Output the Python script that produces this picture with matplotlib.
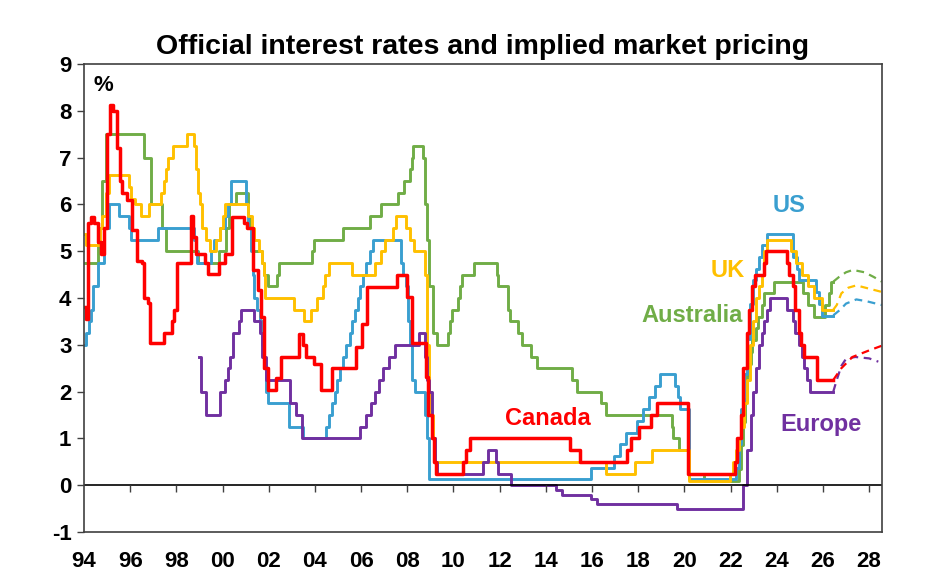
import matplotlib
matplotlib.use("Agg")
import matplotlib.pyplot as plt

plt.rcParams['font.family'] = ['Liberation Sans', 'DejaVu Sans']
plt.rcParams['font.weight'] = 'bold'
plt.rcParams['axes.unicode_minus'] = False

# Policy rates (step changes), decimal years -> %
us_t = [1994.0, 1994.1, 1994.22, 1994.3, 1994.38, 1994.62, 1994.87, 1995.1, 1995.5, 1995.96, 1996.05,
        1997.22, 1998.75, 1998.83, 1998.9, 1999.5, 1999.65, 1999.88, 2000.1, 2000.22, 2000.38,
        2001.0, 2001.1, 2001.22, 2001.3, 2001.38, 2001.5, 2001.63, 2001.72, 2001.8, 2001.87, 2001.95,
        2002.87, 2003.5, 2004.5, 2004.62, 2004.72, 2004.87, 2004.95, 2005.1, 2005.22, 2005.35, 2005.5,
        2005.62, 2005.72, 2005.87, 2005.95, 2006.1, 2006.22, 2006.38, 2006.5, 2007.72, 2007.83, 2007.95,
        2008.05, 2008.1, 2008.22, 2008.33, 2008.78, 2008.85, 2008.96, 2015.96, 2016.96, 2017.2, 2017.46,
        2017.96, 2018.22, 2018.46, 2018.73, 2018.96, 2019.58, 2019.72, 2019.83, 2020.2, 2022.22, 2022.35,
        2022.46, 2022.58, 2022.73, 2022.85, 2022.96, 2023.1, 2023.22, 2023.35, 2023.58, 2024.72, 2024.87,
        2024.96, 2025.72, 2025.83, 2025.96, 2026.45]
us_v = [3.0, 3.25, 3.5, 3.75, 4.25, 4.75, 5.5, 6.0, 5.75, 5.5, 5.25,
        5.5, 5.25, 5.0, 4.75, 5.0, 5.25, 5.5, 5.75, 6.0, 6.5,
        6.0, 5.5, 5.0, 4.5, 4.0, 3.75, 3.5, 3.0, 2.5, 2.0, 1.75,
        1.25, 1.0, 1.25, 1.5, 1.75, 2.0, 2.25, 2.5, 2.75, 3.0, 3.25,
        3.5, 3.75, 4.0, 4.25, 4.5, 4.75, 5.0, 5.25, 4.75, 4.5, 4.25,
        3.5, 3.0, 2.25, 2.0, 1.5, 1.0, 0.125, 0.375, 0.625, 0.875, 1.125,
        1.375, 1.625, 1.875, 2.125, 2.375, 2.125, 1.875, 1.625, 0.125, 0.375, 0.875,
        1.625, 2.375, 3.125, 3.875, 4.375, 4.625, 4.875, 5.125, 5.375, 4.875, 4.625,
        4.375, 4.125, 3.875, 3.625, 3.625]

uk_t = [1994.0, 1994.1, 1994.7, 1994.78, 1994.95, 1995.1, 1995.96, 1996.05, 1996.2, 1996.45, 1996.8,
        1997.35, 1997.45, 1997.55, 1997.62, 1997.85, 1998.45, 1998.78, 1998.85, 1998.95, 1999.02,
        1999.12, 1999.28, 1999.45, 1999.7, 1999.87, 2000.04, 2000.12, 2001.12, 2001.28, 2001.37,
        2001.6, 2001.7, 2001.79, 2001.85, 2003.1, 2003.53, 2003.85, 2004.1, 2004.37, 2004.45, 2004.6,
        2005.6, 2006.6, 2006.87, 2007.04, 2007.37, 2007.53, 2007.95, 2008.12, 2008.28, 2008.78,
        2008.85, 2008.95, 2009.04, 2009.12, 2009.2, 2016.6, 2017.85, 2018.6, 2020.2, 2021.96, 2022.1,
        2022.22, 2022.37, 2022.46, 2022.6, 2022.72, 2022.85, 2022.96, 2023.1, 2023.22, 2023.37,
        2023.47, 2023.6, 2024.6, 2024.85, 2025.1, 2025.37, 2025.6, 2025.96, 2026.45]
uk_v = [5.375, 5.125, 5.5, 5.75, 6.25, 6.625, 6.375, 6.125, 6.0, 5.75, 6.0,
        6.25, 6.5, 6.75, 7.0, 7.25, 7.5, 7.25, 6.75, 6.25, 6.0,
        5.5, 5.25, 5.0, 5.25, 5.5, 5.75, 6.0, 5.75, 5.5, 5.25,
        5.0, 4.75, 4.5, 4.0, 3.75, 3.5, 3.75, 4.0, 4.25, 4.5, 4.75,
        4.5, 4.75, 5.0, 5.25, 5.5, 5.75, 5.5, 5.25, 5.0, 4.5,
        3.0, 2.0, 1.5, 1.0, 0.5, 0.25, 0.5, 0.75, 0.1, 0.25, 0.5,
        0.75, 1.0, 1.25, 1.75, 2.25, 3.0, 3.5, 4.0, 4.25, 4.5,
        5.0, 5.25, 5.0, 4.75, 4.5, 4.25, 4.0, 3.75, 3.75]

aus_t = [1994.0, 1994.62, 1994.8, 1994.95, 1996.58, 1996.92, 1997.4, 1997.55, 1998.92, 1999.85, 2000.15,
         2000.3, 2000.6, 2001.1, 2001.2, 2001.3, 2001.7, 2001.8, 2001.95, 2002.37, 2002.45, 2003.87,
         2003.95, 2005.2, 2006.37, 2006.87, 2007.62, 2007.87, 2008.12, 2008.2, 2008.25, 2008.7, 2008.78,
         2008.85, 2008.95, 2009.1, 2009.3, 2009.78, 2009.87, 2009.95, 2010.2, 2010.28, 2010.37, 2010.87,
         2011.87, 2011.95, 2012.37, 2012.45, 2012.78, 2012.95, 2013.37, 2013.6, 2015.12, 2015.37,
         2016.37, 2016.6, 2019.45, 2019.53, 2019.78, 2020.2, 2020.87, 2022.37, 2022.45, 2022.53,
         2022.62, 2022.7, 2022.78, 2022.87, 2022.95, 2023.12, 2023.2, 2023.37, 2023.45, 2023.87,
         2025.12, 2025.37, 2025.62, 2026.1, 2026.25, 2026.36, 2026.45]
aus_v = [4.75, 5.5, 6.5, 7.5, 7.0, 6.0, 5.5, 5.0, 4.75, 5.0, 5.5,
         6.0, 6.25, 5.75, 5.5, 5.0, 4.75, 4.5, 4.25, 4.5, 4.75, 5.0,
         5.25, 5.5, 5.75, 6.0, 6.25, 6.5, 6.75, 7.0, 7.25, 7.0, 6.0,
         5.25, 4.25, 3.25, 3.0, 3.25, 3.5, 3.75, 4.0, 4.25, 4.5, 4.75,
         4.5, 4.25, 3.75, 3.5, 3.25, 3.0, 2.75, 2.5, 2.25, 2.0,
         1.75, 1.5, 1.25, 1.0, 0.75, 0.25, 0.1, 0.35, 0.85, 1.35,
         1.85, 2.35, 2.6, 2.85, 3.1, 3.35, 3.6, 3.85, 4.1, 4.35,
         4.1, 3.85, 3.6, 3.85, 4.1, 4.35, 4.35]

can_t = [1994.0, 1994.07, 1994.17, 1994.3, 1994.45, 1994.6, 1994.75, 1994.85, 1995.0, 1995.12, 1995.25,
         1995.42, 1995.55, 1995.65, 1995.85, 1996.07, 1996.3, 1996.5, 1996.62, 1996.78, 1996.86,
         1997.48, 1997.82, 1997.88, 1998.02, 1998.62, 1998.73, 1998.85, 1999.25, 1999.38, 1999.85,
         2000.1, 2000.4, 2000.92, 2001.05, 2001.3, 2001.52, 2001.68, 2001.8, 2001.95, 2002.3, 2002.52,
         2003.1, 2003.3, 2003.5, 2003.62, 2003.95, 2004.25, 2004.75, 2005.65, 2005.78, 2006.05,
         2006.27, 2007.55, 2008.0, 2008.2, 2008.8, 2008.9, 2009.05, 2009.15, 2009.25, 2010.4, 2010.55,
         2010.7, 2015.05, 2015.5, 2017.53, 2017.7, 2018.05, 2018.55, 2018.8, 2020.15, 2022.2, 2022.3,
         2022.45, 2022.55, 2022.7, 2022.8, 2022.95, 2023.05, 2023.45, 2023.53, 2024.43, 2024.55,
         2024.7, 2024.8, 2024.95, 2025.07, 2025.2, 2025.76, 2026.45]
can_v = [3.8, 3.55, 5.6, 5.73, 5.6, 5.2, 4.95, 5.5, 7.5, 8.12, 8.0,
         7.2, 6.5, 6.25, 6.1, 5.45, 4.8, 4.74, 4.0, 3.9, 3.03,
         3.25, 3.5, 3.75, 4.74, 5.75, 5.3, 4.95, 4.75, 4.52, 4.74,
         4.95, 5.73, 5.6, 5.5, 4.6, 4.17, 3.6, 2.5, 2.03, 2.3, 2.74,
         2.74, 3.24, 3.0, 2.74, 2.6, 2.03, 2.5, 2.5, 2.96, 3.45,
         4.24, 4.49, 4.02, 3.03, 2.31, 1.5, 1.0, 0.5, 0.25, 0.5, 0.75,
         1.0, 0.75, 0.5, 0.75, 1.0, 1.25, 1.5, 1.75, 0.25, 0.5, 1.0,
         1.5, 2.5, 3.25, 3.75, 4.25, 4.5, 4.75, 5.0, 4.75, 4.5,
         4.25, 3.75, 3.25, 3.0, 2.75, 2.25, 2.25]

eur_t = [1999.0, 1999.06, 1999.3, 1999.87, 2000.1, 2000.22, 2000.33, 2000.45, 2000.7, 2000.78, 2001.37,
         2001.62, 2001.71, 2001.87, 2002.93, 2003.2, 2003.45, 2005.95, 2006.2, 2006.45, 2006.6, 2006.78,
         2006.95, 2007.2, 2007.45, 2008.5, 2008.78, 2008.87, 2008.95, 2009.05, 2009.2, 2009.3, 2011.3,
         2011.5, 2011.85, 2011.95, 2012.5, 2014.45, 2014.7, 2015.95, 2016.2, 2019.7, 2022.55, 2022.7,
         2022.87, 2022.96, 2023.1, 2023.22, 2023.37, 2023.45, 2023.6, 2023.7, 2024.45, 2024.7, 2024.8,
         2024.96, 2025.1, 2025.2, 2025.3, 2025.45, 2026.45]
eur_v = [2.75, 2.0, 1.5, 2.0, 2.25, 2.5, 2.75, 3.25, 3.5, 3.75, 3.5,
         3.25, 2.75, 2.25, 1.75, 1.5, 1.0, 1.25, 1.5, 1.75, 2.0, 2.25,
         2.5, 2.75, 3.0, 3.25, 2.75, 2.25, 2.0, 1.0, 0.5, 0.25, 0.5,
         0.75, 0.5, 0.25, 0.0, -0.1, -0.2, -0.3, -0.4, -0.5, 0.0, 0.75,
         1.5, 2.0, 2.5, 3.0, 3.25, 3.5, 3.75, 4.0, 3.75, 3.5, 3.25,
         3.0, 2.75, 2.5, 2.25, 2.0, 2.0]

# Implied market pricing (dashed)
us_fut_t = [2026.45, 2026.75, 2027.0, 2027.45, 2027.9, 2028.55]
us_fut_v = [3.63, 3.75, 3.88, 3.97, 3.93, 3.85]
uk_fut_t = [2026.45, 2026.6, 2026.8, 2027.1, 2027.45, 2028.0, 2028.55]
uk_fut_v = [3.75, 3.85, 4.1, 4.22, 4.27, 4.2, 4.13]
aus_fut_t = [2026.45, 2026.7, 2027.0, 2027.3, 2027.8, 2028.2, 2028.55]
aus_fut_v = [4.35, 4.45, 4.55, 4.6, 4.55, 4.45, 4.35]
can_fut_t = [2026.45, 2026.8, 2027.28, 2028.0, 2028.55]
can_fut_v = [2.25, 2.5, 2.74, 2.88, 2.98]
eur_fut_t = [2026.45, 2026.6, 2026.8, 2027.0, 2027.4, 2028.0, 2028.4]
eur_fut_v = [2.0, 2.25, 2.55, 2.7, 2.74, 2.71, 2.64]

years = list(range(1994, 2029, 2))
year_labels = ["%02d" % (y % 100) for y in years]

c_us = "#3A9FD0"
c_uk = "#FFC000"
c_aus = "#70AD47"
c_can = "#FF0000"
c_eur = "#7030A0"

fig = plt.figure(figsize=(9.3, 5.82), dpi=100)
ax = fig.add_axes([0.0903, 0.0859, 0.8581, 0.8041])

ax.plot(aus_t, aus_v, color=c_aus, lw=2.1, drawstyle="steps-post")
ax.plot(us_t, us_v, color=c_us, lw=2.1, drawstyle="steps-post")
ax.plot(uk_t, uk_v, color=c_uk, lw=2.1, drawstyle="steps-post")
ax.plot(eur_t, eur_v, color=c_eur, lw=2.1, drawstyle="steps-post")
ax.plot(can_t, can_v, color=c_can, lw=2.5, drawstyle="steps-post")

ax.plot(aus_fut_t, aus_fut_v, color=c_aus, lw=1.6, ls=(0, (3.5, 2.5)))
ax.plot(uk_fut_t, uk_fut_v, color=c_uk, lw=1.6, ls=(0, (3.5, 2.5)))
ax.plot(us_fut_t, us_fut_v, color=c_us, lw=1.6, ls=(0, (3.5, 2.5)))
ax.plot(eur_fut_t, eur_fut_v, color=c_eur, lw=1.6, ls=(0, (3.5, 2.5)))
ax.plot(can_fut_t, can_fut_v, color=c_can, lw=1.6, ls=(0, (3.5, 2.5)))

# zero line with tick marks hanging below it
ax.axhline(0, color="black", lw=1.2)
ax.vlines(years[1:], -0.14, 0, color="#404040", lw=1.0)

ax.set_xlim(1994, 2028.56)
ax.set_ylim(-1, 9)
ax.set_yticks(range(-1, 10))
ax.set_xticks(years)
ax.set_xticklabels(year_labels)
ax.tick_params(axis="x", length=0, pad=14, labelsize=16)
ax.tick_params(axis="y", direction="out", length=5, width=1, color="#404040", labelsize=16, pad=4)
for lab in ax.get_xticklabels() + ax.get_yticklabels():
    lab.set_fontweight("bold")
for s in ax.spines.values():
    s.set_color("#404040")
    s.set_linewidth(1.2)

ax.set_title("Official interest rates and implied market pricing", fontsize=20.5, fontweight="bold", pad=7)

ax.text(1994.83, 8.55, "%", fontsize=16, fontweight="bold", ha="center", va="center")
ax.text(2024.54, 5.98, "US", color=c_us, fontsize=17, fontweight="bold", ha="center", va="center")
ax.text(2021.86, 4.59, "UK", color=c_uk, fontsize=17, fontweight="bold", ha="center", va="center")
ax.text(2020.35, 3.63, "Australia", color=c_aus, fontsize=17, fontweight="bold", ha="center", va="center")
ax.text(2014.08, 1.43, "Canada", color=c_can, fontsize=17, fontweight="bold", ha="center", va="center")
ax.text(2025.92, 1.30, "Europe", color=c_eur, fontsize=17, fontweight="bold", ha="center", va="center")

fig.savefig("out.png", dpi=100)
